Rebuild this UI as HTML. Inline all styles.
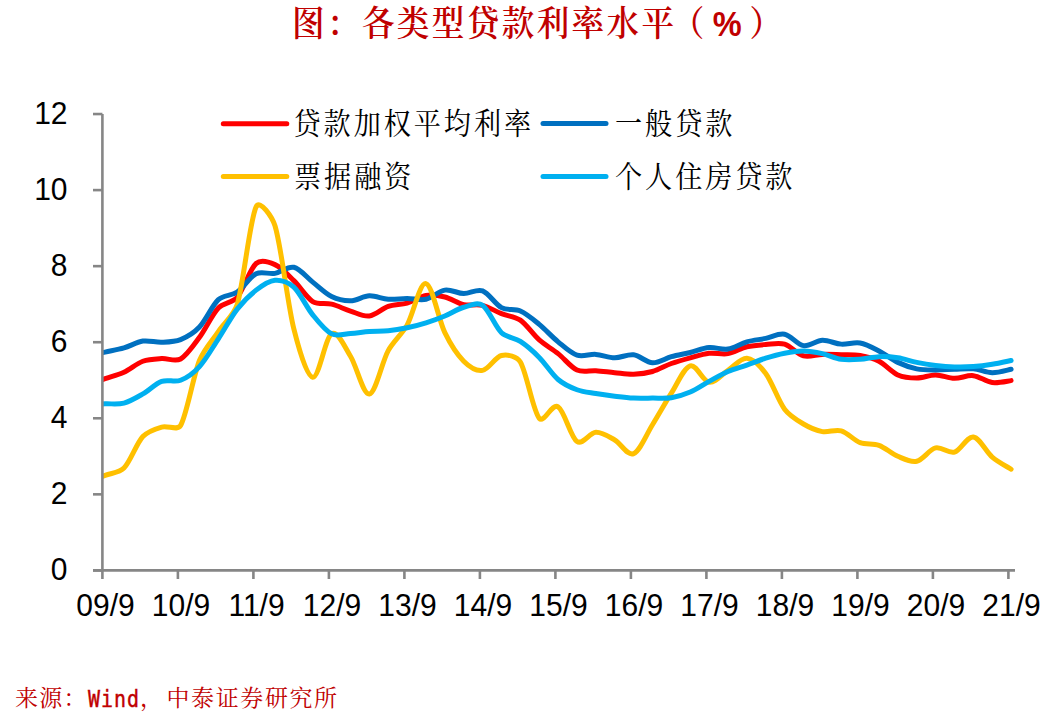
<!DOCTYPE html>
<html><head><meta charset="utf-8"><style>
html,body{margin:0;padding:0;background:#fff;}
body{width:1051px;height:716px;overflow:hidden;position:relative;}
svg{position:absolute;left:0;top:0;}
</style></head><body>
<svg width="1051" height="716" viewBox="0 0 1051 716">
<rect width="1051" height="716" fill="#fff"/>
<text transform="translate(292,35.5) scale(0.93,1)" letter-spacing="2.6" font-size="35" font-weight="600" fill="#C00000" style="font-family:'Noto Serif CJK SC',serif">图：各类型贷款利率水平<tspan dx="-5">（</tspan><tspan dx="6.5" style="font-family:'Liberation Sans',sans-serif">%</tspan><tspan dx="5.8">）</tspan></text>

<g font-family="'Liberation Sans',Arial,sans-serif" font-size="31.5" fill="#000" text-anchor="end"><text transform="translate(67.5,580.00) scale(0.952,1)">0</text><text transform="translate(67.5,503.94) scale(0.952,1)">2</text><text transform="translate(67.5,427.88) scale(0.952,1)">4</text><text transform="translate(67.5,351.82) scale(0.952,1)">6</text><text transform="translate(67.5,275.76) scale(0.952,1)">8</text><text transform="translate(67.5,199.70) scale(0.952,1)">10</text><text transform="translate(67.5,123.64) scale(0.952,1)">12</text></g>
<g font-family="'Liberation Sans',Arial,sans-serif" font-size="31.5" fill="#000" text-anchor="middle"><text transform="translate(105.50,616.3) scale(0.952,1)">09/9</text><text transform="translate(181.00,616.3) scale(0.952,1)">10/9</text><text transform="translate(256.50,616.3) scale(0.952,1)">11/9</text><text transform="translate(332.00,616.3) scale(0.952,1)">12/9</text><text transform="translate(407.50,616.3) scale(0.952,1)">13/9</text><text transform="translate(483.00,616.3) scale(0.952,1)">14/9</text><text transform="translate(558.50,616.3) scale(0.952,1)">15/9</text><text transform="translate(634.00,616.3) scale(0.952,1)">16/9</text><text transform="translate(709.50,616.3) scale(0.952,1)">17/9</text><text transform="translate(785.00,616.3) scale(0.952,1)">18/9</text><text transform="translate(860.50,616.3) scale(0.952,1)">19/9</text><text transform="translate(936.00,616.3) scale(0.952,1)">20/9</text><text transform="translate(1011.50,616.3) scale(0.952,1)">21/9</text></g>
<defs><clipPath id="pa"><rect x="102" y="60" width="940" height="520"/></clipPath></defs>
<g fill="none" stroke-width="5" stroke-linecap="round" stroke-linejoin="round" clip-path="url(#pa)">
<path stroke="#FF0000" d="M86.22,385.19 C89.37,384.12 98.81,380.88 105.10,378.73 C111.39,376.57 117.94,375.06 123.97,372.26 C130.27,369.35 136.56,363.52 142.85,361.23 C148.82,359.07 155.43,358.95 161.72,358.57 C168.01,358.19 175.12,362.05 180.60,358.95 C186.89,355.40 193.77,344.97 199.47,337.28 C205.77,328.78 212.06,314.65 218.35,307.99 C223.31,302.74 232.55,302.85 237.22,297.34 C243.52,289.93 249.81,268.95 256.10,263.50 C260.86,259.37 269.23,262.04 274.98,264.64 C281.27,267.49 287.96,274.85 293.85,280.61 C300.14,286.76 306.43,297.60 312.73,301.53 C318.11,304.89 325.44,302.64 331.60,304.19 C337.89,305.77 344.18,309.07 350.48,311.04 C356.68,312.97 363.06,316.74 369.35,315.98 C375.64,315.22 381.93,308.63 388.23,306.47 C394.27,304.40 400.96,304.84 407.10,303.05 C413.39,301.21 419.68,296.46 425.98,295.44 C432.21,294.44 438.71,295.48 444.85,296.96 C451.14,298.49 457.43,303.18 463.73,304.57 C469.87,305.93 476.48,303.85 482.60,305.33 C488.89,306.85 495.18,311.23 501.48,313.70 C507.66,316.13 514.89,316.37 520.35,320.16 C526.64,324.54 532.93,334.36 539.23,339.94 C545.04,345.09 552.02,348.79 558.10,353.63 C564.39,358.64 570.68,367.13 576.98,369.98 C582.71,372.58 589.57,370.30 595.85,370.74 C602.14,371.19 608.43,372.07 614.73,372.64 C621.01,373.21 627.31,374.36 633.60,374.17 C639.89,373.98 646.36,373.23 652.48,371.50 C658.77,369.73 665.06,365.80 671.35,363.52 C677.53,361.28 683.93,359.52 690.23,357.81 C696.47,356.11 702.81,353.95 709.10,353.25 C715.35,352.56 721.77,354.69 727.98,353.63 C734.27,352.55 740.56,348.30 746.85,346.78 C753.01,345.29 759.43,344.95 765.73,344.50 C772.00,344.06 778.58,342.30 784.60,344.12 C790.89,346.02 797.18,354.20 803.48,355.91 C809.57,357.57 816.06,354.58 822.35,354.39 C828.64,354.20 834.93,354.58 841.23,354.77 C847.52,354.96 853.89,354.47 860.10,355.53 C866.39,356.61 873.13,358.23 878.98,361.23 C885.27,364.47 891.56,372.14 897.85,374.93 C903.68,377.51 910.43,377.97 916.73,377.97 C923.02,377.97 929.31,374.86 935.60,374.93 C941.89,374.99 948.18,378.22 954.48,378.35 C960.77,378.48 967.06,374.99 973.35,375.69 C979.64,376.38 985.93,381.71 992.23,382.53 C998.49,383.35 1007.95,380.95 1011.10,380.63"/>
<path stroke="#0070C0" d="M86.22,356.29 C89.37,355.59 98.81,353.50 105.10,352.11 C111.39,350.71 117.79,349.73 123.97,347.92 C130.27,346.09 136.56,342.03 142.85,341.08 C149.08,340.14 155.43,342.47 161.72,342.22 C168.02,341.97 174.71,341.93 180.60,339.56 C186.89,337.02 194.28,332.50 199.47,327.01 C205.77,320.35 212.06,305.46 218.35,299.63 C223.33,295.02 231.63,295.85 237.22,292.02 C243.52,287.71 249.81,276.87 256.10,273.77 C261.74,270.98 268.77,274.45 274.98,273.39 C281.27,272.31 287.56,265.84 293.85,267.30 C300.14,268.76 306.43,277.25 312.73,282.13 C318.99,286.99 325.31,293.48 331.60,296.58 C337.38,299.44 344.18,300.89 350.48,300.77 C356.77,300.64 363.06,296.08 369.35,295.82 C375.64,295.57 381.93,298.80 388.23,299.25 C394.51,299.69 400.81,298.49 407.10,298.49 C413.39,298.49 419.83,300.61 425.98,299.25 C432.27,297.85 438.56,291.07 444.85,290.12 C451.14,289.17 457.43,293.41 463.73,293.54 C470.02,293.67 476.65,288.66 482.60,290.88 C488.89,293.22 495.18,304.25 501.48,307.61 C507.12,310.62 514.50,308.44 520.35,311.04 C526.64,313.82 533.26,319.48 539.23,324.35 C545.52,329.48 551.81,336.71 558.10,341.84 C564.06,346.71 570.68,353.06 576.98,355.15 C582.95,357.14 589.57,353.95 595.85,354.39 C602.14,354.83 608.43,357.75 614.73,357.81 C621.02,357.88 627.31,353.95 633.60,354.77 C639.89,355.59 646.18,362.44 652.48,362.76 C658.77,363.07 665.06,358.38 671.35,356.67 C677.57,354.98 683.96,354.00 690.23,352.49 C696.52,350.97 702.81,348.11 709.10,347.54 C715.39,346.97 721.73,350.01 727.98,349.07 C734.27,348.11 740.56,343.61 746.85,341.84 C753.00,340.10 759.46,339.68 765.73,338.42 C772.02,337.15 778.31,333.03 784.60,334.23 C790.89,335.44 797.18,344.63 803.48,345.64 C809.77,346.66 816.06,340.57 822.35,340.32 C828.64,340.06 834.93,343.68 841.23,344.12 C847.51,344.56 853.90,341.86 860.10,342.98 C866.39,344.12 872.90,347.84 878.98,350.97 C885.27,354.20 891.56,359.40 897.85,362.38 C903.86,365.22 910.43,367.57 916.73,368.84 C922.90,370.09 929.31,369.92 935.60,369.98 C941.89,370.05 948.18,369.41 954.48,369.22 C960.77,369.03 967.08,368.27 973.35,368.84 C979.64,369.41 985.93,372.58 992.23,372.64 C998.52,372.71 1007.95,369.79 1011.10,369.22"/>
<path stroke="#FFC000" d="M86.22,482.55 C89.37,481.35 98.81,477.73 105.10,475.32 C111.39,472.92 119.28,472.93 123.97,468.10 C130.27,461.63 136.56,443.38 142.85,436.53 C147.62,431.35 155.43,428.87 161.72,427.03 C167.78,425.26 177.49,431.00 180.60,425.51 C186.89,414.41 193.18,376.13 199.47,360.47 C203.77,349.80 212.06,340.89 218.35,331.57 C224.50,322.47 234.04,315.08 237.22,304.57 C243.52,283.78 249.81,219.95 256.10,206.83 C259.96,198.78 272.34,217.32 274.98,225.85 C281.27,246.19 287.56,303.68 293.85,328.91 C298.03,345.68 306.43,376.38 312.73,377.21 C319.02,378.03 325.31,337.34 331.60,333.85 C337.89,330.37 345.28,348.02 350.48,356.29 C356.77,366.31 363.06,394.89 369.35,393.94 C375.64,392.99 381.93,362.06 388.23,350.59 C393.31,341.32 401.91,334.31 407.10,325.11 C413.39,313.95 419.68,282.39 425.98,283.65 C432.27,284.92 438.56,319.78 444.85,332.71 C449.84,342.96 457.43,354.96 463.73,361.23 C468.67,366.17 476.31,371.31 482.60,370.36 C488.89,369.41 495.18,356.92 501.48,355.53 C507.77,354.14 516.92,356.30 520.35,362.00 C526.64,372.45 532.93,410.80 539.23,418.28 C543.96,423.91 551.84,403.02 558.10,406.87 C564.39,410.74 570.68,437.23 576.98,441.48 C582.77,445.39 589.56,432.60 595.85,432.35 C602.14,432.10 608.82,436.62 614.73,439.96 C621.02,443.51 627.31,456.18 633.60,453.65 C639.89,451.11 646.38,434.51 652.48,424.75 C658.77,414.67 665.06,403.00 671.35,393.18 C677.33,383.84 683.93,367.64 690.23,365.80 C696.52,363.96 702.81,381.39 709.10,382.15 C715.39,382.91 721.71,374.34 727.98,370.36 C734.27,366.37 740.56,357.69 746.85,358.19 C753.14,358.70 760.92,366.91 765.73,373.40 C772.02,381.90 778.31,400.72 784.60,409.15 C789.39,415.57 797.18,420.24 803.48,423.98 C809.31,427.45 816.06,430.45 822.35,431.59 C828.55,432.71 835.18,429.06 841.23,430.83 C847.52,432.67 853.81,440.21 860.10,442.62 C866.03,444.89 873.00,443.11 878.98,445.28 C885.27,447.56 891.56,453.65 897.85,456.31 C903.84,458.84 910.43,462.65 916.73,461.25 C923.02,459.86 929.31,449.46 935.60,447.94 C941.86,446.43 948.29,453.93 954.48,452.13 C960.77,450.29 967.06,436.09 973.35,436.91 C979.64,437.74 985.93,451.68 992.23,457.07 C997.91,461.94 1007.95,467.21 1011.10,469.24"/>
<path stroke="#00B0F0" d="M86.22,404.59 C89.37,404.46 98.81,404.08 105.10,403.83 C111.39,403.58 117.88,404.66 123.97,403.07 C130.27,401.42 136.79,397.42 142.85,393.94 C149.14,390.33 155.43,383.67 161.72,381.39 C167.65,379.24 174.73,382.55 180.60,380.25 C186.89,377.78 194.24,372.31 199.47,366.56 C205.77,359.65 212.20,348.15 218.35,338.80 C224.64,329.23 230.93,317.25 237.22,309.13 C242.70,302.08 249.81,294.94 256.10,290.12 C261.74,285.80 268.68,280.74 274.98,280.23 C281.27,279.72 288.92,282.55 293.85,287.08 C300.14,292.84 306.43,307.04 312.73,314.84 C318.33,321.79 325.31,330.75 331.60,333.85 C337.24,336.64 344.19,333.85 350.48,333.47 C356.77,333.09 363.06,332.02 369.35,331.57 C375.63,331.13 381.96,331.44 388.23,330.81 C394.52,330.18 400.87,329.09 407.10,327.77 C413.39,326.44 419.77,324.76 425.98,322.82 C432.27,320.86 438.66,318.53 444.85,315.98 C451.14,313.38 457.43,309.01 463.73,307.23 C469.81,305.52 477.36,301.79 482.60,305.33 C488.89,309.58 495.18,326.69 501.48,332.71 C506.48,337.51 514.55,337.66 520.35,341.46 C526.64,345.58 533.42,351.58 539.23,357.43 C545.52,363.77 551.81,374.10 558.10,379.49 C563.54,384.15 570.68,387.41 576.98,389.76 C582.99,392.00 589.56,392.48 595.85,393.56 C602.11,394.63 608.43,395.46 614.73,396.22 C621.00,396.98 627.31,397.81 633.60,398.12 C639.88,398.44 646.18,398.19 652.48,398.12 C658.77,398.06 665.14,398.75 671.35,397.74 C677.64,396.73 684.19,394.65 690.23,392.04 C696.52,389.31 702.81,384.81 709.10,381.39 C715.34,378.00 721.68,374.23 727.98,371.50 C734.08,368.86 740.58,367.25 746.85,365.04 C753.14,362.82 759.43,360.16 765.73,358.19 C771.93,356.25 778.31,354.45 784.60,353.25 C790.82,352.06 797.18,350.90 803.48,350.97 C809.77,351.03 816.15,352.25 822.35,353.63 C828.64,355.02 834.93,358.38 841.23,359.33 C847.45,360.27 853.82,359.78 860.10,359.33 C866.39,358.89 872.68,356.92 878.98,356.67 C885.27,356.42 891.62,356.87 897.85,357.81 C904.14,358.76 910.43,361.11 916.73,362.38 C922.97,363.63 929.31,364.66 935.60,365.42 C941.87,366.18 948.18,366.75 954.48,366.94 C960.77,367.13 967.07,367.00 973.35,366.56 C979.64,366.12 985.97,365.29 992.23,364.28 C998.52,363.26 1007.95,361.11 1011.10,360.47"/>
</g>
<g stroke="#868686" stroke-width="2.6" fill="none">
<line x1="102.4" y1="114" x2="102.4" y2="570.40"/>
<line x1="93" y1="570.40" x2="1015" y2="570.40"/>
<line x1="93" y1="570.40" x2="102.4" y2="570.40"/><line x1="93" y1="494.34" x2="102.4" y2="494.34"/><line x1="93" y1="418.28" x2="102.4" y2="418.28"/><line x1="93" y1="342.22" x2="102.4" y2="342.22"/><line x1="93" y1="266.16" x2="102.4" y2="266.16"/><line x1="93" y1="190.10" x2="102.4" y2="190.10"/><line x1="93" y1="114.04" x2="102.4" y2="114.04"/>
<line x1="102.40" y1="570.40" x2="102.40" y2="579"/><line x1="177.90" y1="570.40" x2="177.90" y2="579"/><line x1="253.40" y1="570.40" x2="253.40" y2="579"/><line x1="328.90" y1="570.40" x2="328.90" y2="579"/><line x1="404.40" y1="570.40" x2="404.40" y2="579"/><line x1="479.90" y1="570.40" x2="479.90" y2="579"/><line x1="555.40" y1="570.40" x2="555.40" y2="579"/><line x1="630.90" y1="570.40" x2="630.90" y2="579"/><line x1="706.40" y1="570.40" x2="706.40" y2="579"/><line x1="781.90" y1="570.40" x2="781.90" y2="579"/><line x1="857.40" y1="570.40" x2="857.40" y2="579"/><line x1="932.90" y1="570.40" x2="932.90" y2="579"/><line x1="1008.40" y1="570.40" x2="1008.40" y2="579"/>
</g>
<g stroke-width="5" stroke-linecap="round">
<line x1="223.3" y1="123.7" x2="286.8" y2="123.7" stroke="#FF0000"/>
<line x1="223.3" y1="176.6" x2="286.8" y2="176.6" stroke="#FFC000"/>
<line x1="543" y1="123.5" x2="606" y2="123.5" stroke="#0070C0"/>
<line x1="543" y1="176.4" x2="606" y2="176.4" stroke="#00B0F0"/>
</g>
<g style="font-family:'Noto Serif CJK SC',serif" font-size="29.5" fill="#000">
<text transform="translate(293.5,133.5) scale(0.92,1)" letter-spacing="3.2">贷款加权平均利率</text>
<text transform="translate(294,186.5) scale(0.92,1)" letter-spacing="3.2">票据融资</text>
<text transform="translate(615,133.5) scale(0.92,1)" letter-spacing="3.2">一般贷款</text>
<text transform="translate(615,186.5) scale(0.92,1)" letter-spacing="3.2">个人住房贷款</text>
</g>
<g fill="#C00000" font-size="23" letter-spacing="1.2" style="font-family:'Noto Serif CJK SC',serif">
<text x="15" y="706">来源：</text>
<text transform="translate(88,706.5) scale(0.85,1)" font-size="23.5" stroke="#C00000" stroke-width="0.45" style="font-family:'DejaVu Sans Mono',monospace">Wind</text>
<text x="140" y="706">，</text>
<text x="166.5" y="706" letter-spacing="1.6">中泰证券研究所</text>
</g>
</svg>
</body></html>
